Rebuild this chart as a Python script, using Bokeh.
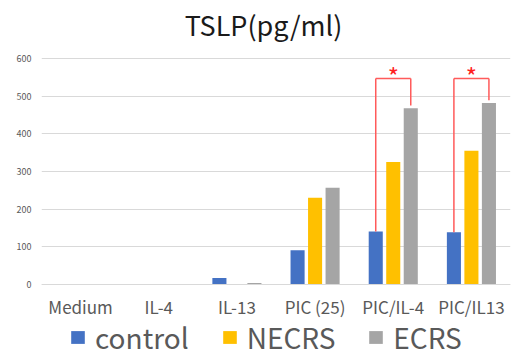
from bokeh.plotting import figure
from bokeh.models import ColumnDataSource, FactorRange, Range1d, Legend, LegendItem, Label, FixedTicker
from bokeh.transform import dodge
from bokeh.core.properties import value
from bokeh.embed import file_html
from bokeh.resources import INLINE

categories = ["Medium", "IL-4", "IL-13", "PIC (25)", "PIC/IL-4", "PIC/IL13"]
control = [0, 0, 17, 91, 141, 139]
necrs = [0, 0, 0, 230, 325, 355]
ecrs = [0, 0, 4, 257, 468, 482]
series_names = ["control", "NECRS", "ECRS"]
sig_categories = ["PIC/IL-4", "PIC/IL13"]
y_ticks = [0, 100, 200, 300, 400, 500, 600]
title_text = "TSLP(pg/ml)"

colors = ["#4472C4", "#FFC000", "#A5A5A5"]
FONT = "Noto Sans CJK JP"
TXT = "#595959"

src = ColumnDataSource(dict(cat=categories, control=control, necrs=necrs, ecrs=ecrs))

# frame covers the whole height so title and legend can sit inside it
p = figure(width=514, height=358, x_range=FactorRange(*categories, range_padding=0),
           y_range=Range1d(-196.5, 754), output_backend="svg", toolbar_location=None,
           min_border_left=41, min_border_right=4, min_border_top=0, min_border_bottom=0)
p.outline_line_color = None
p.background_fill_color = "white"

p.add_layout(Label(x=222, y=334, x_units="screen", y_units="screen", text=title_text,
                   text_font=FONT, text_font_size="27px", text_color="#1a1a1a",
                   text_align="center", text_baseline="alphabetic"))

off = 0.224
w = 0.18
renderers = []
for field, off_i, col in zip(["control", "necrs", "ecrs"], [-off, 0, off], colors):
    r = p.vbar(x=dodge("cat", off_i, range=p.x_range), top=field, width=w, source=src,
               fill_color=col, line_color=None)
    renderers.append(r)

# significance brackets
bracket_level = 547
idx = [categories.index(c) for c in sig_categories]
ctrl_tops = [control[i] for i in idx]
ecrs_tops = [ecrs[i] for i in idx]
bsrc = ColumnDataSource(dict(cat=sig_categories, ctrl=ctrl_tops,
                             ecrs_gap=[v + 7 for v in ecrs_tops],
                             lvl=[bracket_level] * len(idx),
                             star_y=[bracket_level + 7] * len(idx),
                             star=["*"] * len(idx)))
red = "#FF5A5A"
p.segment(x0=dodge("cat", -off, range=p.x_range), y0="ctrl", x1=dodge("cat", -off, range=p.x_range), y1="lvl",
          source=bsrc, line_color=red, line_width=1.5)
p.segment(x0=dodge("cat", -off, range=p.x_range), y0="lvl", x1=dodge("cat", off, range=p.x_range), y1="lvl",
          source=bsrc, line_color=red, line_width=1.5)
p.segment(x0=dodge("cat", off, range=p.x_range), y0="lvl", x1=dodge("cat", off, range=p.x_range), y1="ecrs_gap",
          source=bsrc, line_color=red, line_width=1.5)
p.text(x="cat", y="star_y", text="star", source=bsrc, text_color="#FF2020",
       text_font=value(FONT), text_font_size="24px", text_align="center", text_baseline="middle")

# axes
p.yaxis.ticker = FixedTicker(ticks=y_ticks)
p.yaxis.axis_line_color = None
p.yaxis.major_tick_line_color = None
p.yaxis.minor_tick_line_color = None
p.yaxis.major_tick_out = 0
p.yaxis.major_label_text_font = FONT
p.yaxis.major_label_text_font_size = "9px"
p.yaxis.major_label_text_color = TXT
p.yaxis.major_label_standoff = 10

p.xaxis.fixed_location = 0
p.xaxis.axis_line_color = "#d9d9d9"
p.xaxis.major_tick_line_color = None
p.xaxis.minor_tick_line_color = None
p.xaxis.major_tick_out = 0
p.xaxis.major_label_text_font = FONT
p.xaxis.major_label_text_font_size = "17px"
p.xaxis.major_label_text_color = TXT
p.xaxis.major_label_standoff = 10

p.xgrid.grid_line_color = None
p.ygrid.grid_line_color = "#d9d9d9"
p.ygrid.grid_line_width = 1

legend = Legend(items=[LegendItem(label=n, renderers=[r]) for n, r in zip(series_names, renderers)],
                orientation="horizontal", location=(28, 1),
                label_text_font=FONT, label_text_font_size="28px", label_text_color=TXT,
                glyph_width=17, glyph_height=16, label_standoff=9, spacing=32,
                padding=0, margin=0, border_line_color=None, background_fill_alpha=0)
p.add_layout(legend, "center")

open("out.html", "w").write(file_html(p, INLINE))
